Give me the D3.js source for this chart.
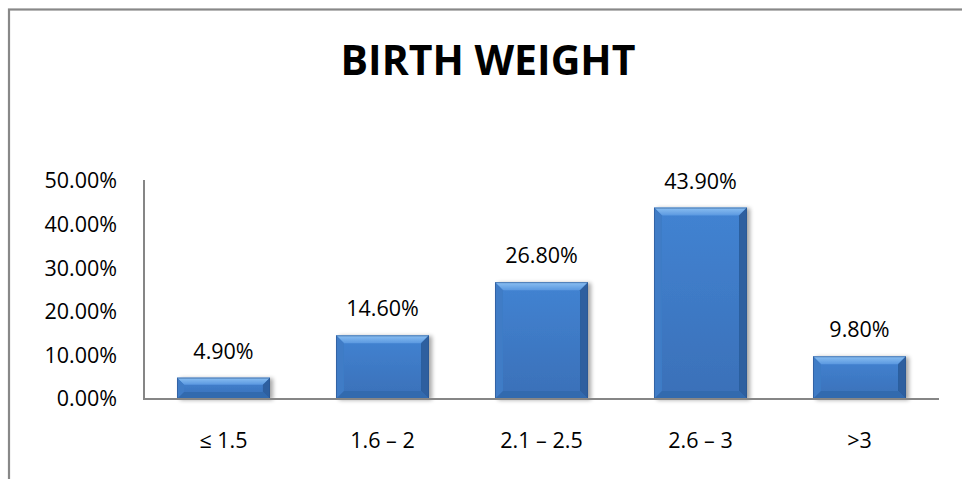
<!DOCTYPE html>
<html>
<head>
<meta charset="utf-8">
<script src="https://cdn.jsdelivr.net/npm/d3@7"></script>
<style>
  html, body { margin: 0; padding: 0; background: #fff; }
  svg { display: block; }
  text { font-family: "Open Sans", "Liberation Sans", sans-serif; fill: #000; }
</style>
</head>
<body>
<svg id="chart" width="962" height="479"></svg>
<script>
// Birth weight distribution (kg), share of births
const categories = ["\u2264 1.5", "1.6 \u2013 2", "2.1 \u2013 2.5", "2.6 \u2013 3", ">3"];
const shares = [4.9, 14.6, 26.8, 43.9, 9.8];
const yTicks = [0, 10, 20, 30, 40, 50];
const chartTitle = "BIRTH WEIGHT";

const svg = d3.select("#chart");
const W = 962, H = 479;

// outer frame (runs past the right and bottom edges)
svg.append("rect")
  .attr("x", 9).attr("y", 9.5)
  .attr("width", W + 20).attr("height", H + 20)
  .attr("fill", "#fff")
  .attr("stroke", "#888").attr("stroke-width", 2.2);

const plot = { left: 144, right: 939, top: 181, bottom: 399 };

const x = d3.scaleBand()
  .domain(categories)
  .range([plot.left, plot.right])
  .paddingInner(0.415)
  .paddingOuter(0.2075);

const y = d3.scaleLinear()
  .domain([0, 50])
  .range([plot.bottom, plot.top]);

const defs = svg.append("defs");

const shadow = defs.append("filter").attr("id", "barShadow")
  .attr("x", "-20%").attr("y", "-20%").attr("width", "150%").attr("height", "140%");
shadow.append("feGaussianBlur").attr("in", "SourceAlpha").attr("stdDeviation", 2.2).attr("result", "b");
shadow.append("feOffset").attr("in", "b").attr("dx", 3).attr("dy", 1).attr("result", "o");
shadow.append("feComponentTransfer").attr("in", "o").attr("result", "s")
  .append("feFuncA").attr("type", "linear").attr("slope", 0.35);
const merge = shadow.append("feMerge");
merge.append("feMergeNode").attr("in", "s");
merge.append("feMergeNode").attr("in", "SourceGraphic");

const face = defs.append("linearGradient").attr("id", "faceGrad")
  .attr("x1", 0).attr("y1", 0).attr("x2", 0).attr("y2", 1);
face.append("stop").attr("offset", "0%").attr("stop-color", "#4283d2");
face.append("stop").attr("offset", "100%").attr("stop-color", "#3a70b8");

const topGrad = defs.append("linearGradient").attr("id", "topGrad")
  .attr("x1", 0).attr("y1", 0).attr("x2", 0).attr("y2", 1);
topGrad.append("stop").attr("offset", "0%").attr("stop-color", "#8cc0f2");
topGrad.append("stop").attr("offset", "100%").attr("stop-color", "#5a98e0");

// y axis line
svg.append("line")
  .attr("x1", plot.left).attr("x2", plot.left)
  .attr("y1", y(50) - 1).attr("y2", y(0))
  .attr("stroke", "#868686").attr("stroke-width", 2);

// y tick labels
const yAxis = d3.axisLeft(y).tickValues(yTicks).tickSize(0).tickPadding(27)
  .tickFormat(d => d.toFixed(2) + "%");
const yg = svg.append("g").attr("transform", `translate(${plot.left},0)`).call(yAxis);
yg.select(".domain").remove();
yg.selectAll("text").attr("font-size", 21.5).attr("font-family", "'Open Sans', sans-serif").attr("fill", "#000");

// bars with bevelled edges
const bars = svg.append("g").selectAll("g").data(shares).join("g")
  .attr("filter", "url(#barShadow)");

bars.each(function(v, i) {
  const g = d3.select(this);
  const x0 = x(categories[i]), bw = x.bandwidth();
  const y0 = y(v), y1 = y(0), h = y1 - y0;
  const b = Math.min(8, h / 3);
  g.append("rect").attr("x", x0).attr("y", y0).attr("width", bw).attr("height", h).attr("fill", "url(#faceGrad)");
  // top bevel
  g.append("polygon").attr("points", [[x0, y0], [x0 + bw, y0], [x0 + bw - b, y0 + b], [x0 + b, y0 + b]].join(" "))
    .attr("fill", "url(#topGrad)");
  // left bevel
  g.append("polygon").attr("points", [[x0, y0], [x0 + b, y0 + b], [x0 + b, y1 - b], [x0, y1]].join(" "))
    .attr("fill", "#3f7bc6");
  // right bevel
  g.append("polygon").attr("points", [[x0 + bw, y0], [x0 + bw, y1], [x0 + bw - b, y1 - b], [x0 + bw - b, y0 + b]].join(" "))
    .attr("fill", "#2d5f9f");
  // bottom bevel
  g.append("polygon").attr("points", [[x0, y1], [x0 + b, y1 - b], [x0 + bw - b, y1 - b], [x0 + bw, y1]].join(" "))
    .attr("fill", "#336aae");
  g.append("rect").attr("x", x0 + 0.5).attr("y", y0 + 0.5).attr("width", bw - 1).attr("height", h - 1)
    .attr("fill", "none").attr("stroke", "#2a5590").attr("stroke-width", 1).attr("stroke-opacity", 0.6);
});

// x axis line
svg.append("line")
  .attr("x1", plot.left - 1).attr("x2", plot.right)
  .attr("y1", y(0)).attr("y2", y(0))
  .attr("stroke", "#868686").attr("stroke-width", 2);

// category labels
svg.append("g").selectAll("text").data(categories).join("text")
  .attr("x", d => x(d) + x.bandwidth() / 2)
  .attr("y", 448)
  .attr("text-anchor", "middle")
  .attr("font-size", 21.5)
  .text(d => d);

// value labels
svg.append("g").selectAll("text").data(shares).join("text")
  .attr("x", (d, i) => x(categories[i]) + x.bandwidth() / 2)
  .attr("y", d => y(d) - 19)
  .attr("text-anchor", "middle")
  .attr("font-size", 21.5)
  .text(d => d.toFixed(2) + "%");

// title
svg.append("text")
  .attr("x", 488).attr("y", 75)
  .attr("text-anchor", "middle")
  .attr("font-size", 41)
  .attr("font-weight", 700)
  .text(chartTitle);
</script>
</body>
</html>
